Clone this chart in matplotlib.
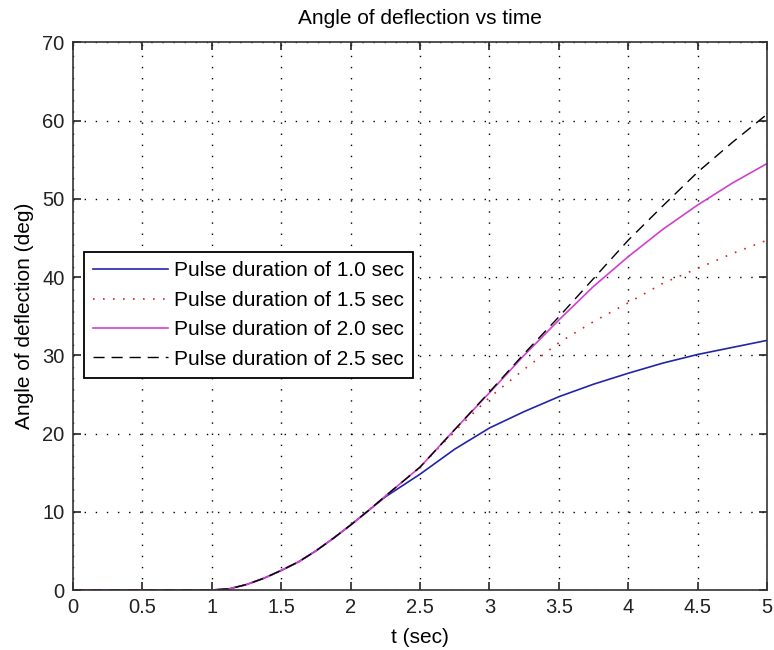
import matplotlib
matplotlib.use("Agg")
import matplotlib.pyplot as plt

plt.rcParams['font.family'] = ['Liberation Sans', 'DejaVu Sans']

# time samples (sec)
t = [0.0, 0.5, 1.0, 1.125, 1.25, 1.375, 1.5, 1.625, 1.75, 1.875, 2.0, 2.125,
     2.25, 2.5, 2.75, 3.0, 3.25, 3.5, 3.75, 4.0, 4.25, 4.5, 4.75, 5.0]

# angle of deflection (deg) for each pulse duration
pulse_10 = [0, 0, 0, 0.15, 0.7, 1.5, 2.5, 3.6, 5.0, 6.6, 8.3, 10.1,
            11.9, 14.8, 18.0, 20.7, 22.8, 24.7, 26.3, 27.7, 29.0, 30.1, 31.0, 31.9]
pulse_15 = [0, 0, 0, 0.15, 0.7, 1.5, 2.5, 3.6, 5.0, 6.6, 8.3, 10.1,
            12.0, 15.7, 20.3, 24.6, 28.2, 31.6, 34.3, 36.7, 39.2, 41.1, 43.0, 44.7]
pulse_20 = [0, 0, 0, 0.15, 0.7, 1.5, 2.5, 3.6, 5.0, 6.6, 8.3, 10.1,
            12.0, 15.7, 20.5, 25.2, 30.0, 34.5, 38.8, 42.6, 46.1, 49.2, 52.0, 54.5]
pulse_25 = [0, 0, 0, 0.15, 0.7, 1.5, 2.5, 3.6, 5.0, 6.6, 8.3, 10.1,
            12.0, 15.7, 20.5, 25.3, 30.2, 34.9, 39.8, 44.7, 49.1, 53.4, 57.2, 60.8]

labels = ["Pulse duration of 1.0 sec", "Pulse duration of 1.5 sec",
          "Pulse duration of 2.0 sec", "Pulse duration of 2.5 sec"]

xticks = [0, 0.5, 1, 1.5, 2, 2.5, 3, 3.5, 4, 4.5, 5]
xticklabels = ["0", "0.5", "1", "1.5", "2", "2.5", "3", "3.5", "4", "4.5", "5"]
yticks = [0, 10, 20, 30, 40, 50, 60, 70]

fs = 15

fig = plt.figure(figsize=(7.74, 6.5), dpi=100)
ax = fig.add_axes([0.0943, 0.0923, 0.8967, 0.8427])

ax.plot(t, pulse_10, color="#2424a8", lw=1.2, label=labels[0])
ax.plot(t, pulse_15, color="#e02020", lw=1.2, ls=(0, (1, 5)), label=labels[1])
ax.plot(t, pulse_20, color="#d040d0", lw=1.2, label=labels[2])
ax.plot(t, pulse_25, color="black", lw=1.0, ls=(0, (8, 5)), label=labels[3])

ax.set_xlim(0, 5)
ax.set_ylim(0, 70)
ax.set_xticks(xticks)
ax.set_xticklabels(xticklabels)
ax.set_yticks(yticks)
ax.tick_params(direction="in", length=6, width=1.2, top=True, right=True,
               labelsize=14.5, colors="#222222", pad=6)
ax.grid(True, color="black", ls=(0, (1, 7)), lw=1.0)
for s in ax.spines.values():
    s.set_linewidth(1.2)
    s.set_color("#333333")

ax.set_title("Angle of deflection vs time", fontsize=fs, pad=13)
ax.set_xlabel("t (sec)", fontsize=fs, labelpad=8)
ax.set_ylabel("Angle of deflection (deg)", fontsize=fs, labelpad=6)

leg = ax.legend(loc="upper left", bbox_to_anchor=(0.0159, 0.617), borderaxespad=0,
                fontsize=fs, fancybox=False, framealpha=1, edgecolor="black",
                handlelength=3.6, handletextpad=0.25, labelspacing=0.5,
                borderpad=0.45)
leg.get_frame().set_linewidth(1.3)

fig.savefig("out.png", dpi=100)
